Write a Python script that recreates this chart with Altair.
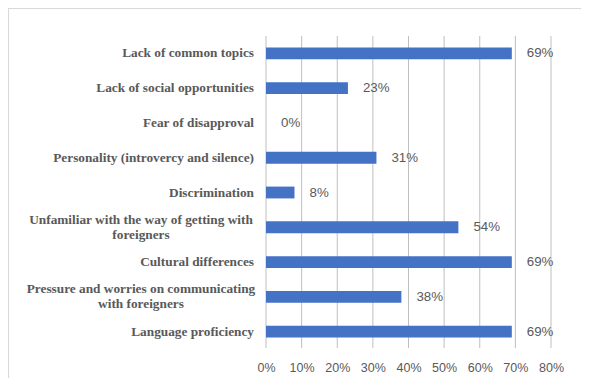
import altair as alt
import pandas as pd

causes = [
    "Lack of common topics",
    "Lack of social opportunities",
    "Fear of disapproval",
    "Personality (introvercy and silence)",
    "Discrimination",
    "Unfamiliar with the way of getting with\nforeigners",
    "Cultural differences",
    "Pressure and worries on communicating\nwith foreigners",
    "Language proficiency",
]
values = [0.69, 0.23, 0.00, 0.31, 0.08, 0.54, 0.69, 0.38, 0.69]
ticks = [0, 0.1, 0.2, 0.3, 0.4, 0.5, 0.6, 0.7, 0.8]

df = pd.DataFrame({
    "cause": causes,
    "value": values,
    "wrapped": ["\n" in c for c in causes],
})

GRAY = "#595959"
W, H = 285, 313

y_enc = alt.Y(
    "cause:N",
    sort=causes,
    axis=None,
    scale=alt.Scale(paddingInner=0.66, paddingOuter=0.33),
)

x_axis = alt.Axis(
    values=ticks,
    tickCount=9,
    format=".0%",
    title=None,
    domain=False,
    ticks=False,
    grid=False,
    labelFont="Liberation Sans",
    labelFontSize=12.5,
    labelColor=GRAY,
    labelPadding=12,
    labelOverlap=False,
    labelFlush=False,
)
x_scale = alt.Scale(domain=[0, 0.8], nice=False)
x_enc = alt.X("value:Q", scale=x_scale, axis=x_axis)

grid = alt.Chart(pd.DataFrame({"tick": ticks})).mark_rule(
    color="#BFBFBF", strokeWidth=1, opacity=1,
).encode(
    x=alt.X("tick:Q", scale=x_scale, axis=x_axis),
    y=alt.value(0),
    y2=alt.value(H - 1),
)

base = alt.Chart(df)

bars = base.mark_bar(color="#4472C4").encode(x=x_enc, y=y_enc)

vals = base.mark_text(
    align="left", baseline="middle", dx=15,
    font="Liberation Sans", fontSize=13.3, color=GRAY,
).encode(
    x=x_enc,
    y=y_enc,
    text=alt.Text("value:Q", format=".0%"),
)

lab_single = base.transform_filter("!datum.wrapped").mark_text(
    align="right", baseline="middle",
    font="Liberation Serif", fontSize=13.3, fontWeight="bold", color=GRAY,
).encode(
    x=alt.value(-12),
    y=y_enc,
    text="cause:N",
)

lab_wrapped = base.transform_filter("datum.wrapped").mark_text(
    align="center", baseline="middle", lineBreak="\n", lineHeight=15, dy=-7.5,
    font="Liberation Serif", fontSize=13.3, fontWeight="bold", color=GRAY,
).encode(
    x=alt.value(-125),
    y=y_enc,
    text="cause:N",
)

border = alt.Chart(pd.DataFrame({"a": [0]})).mark_rect(
    filled=False, stroke="#D9D9D9", strokeWidth=1.2,
).encode(
    x=alt.value(-257.5),
    x2=alt.value(400),
    y=alt.value(-27.5),
    y2=alt.value(400),
)

chart = alt.layer(grid, bars, vals, lab_single, lab_wrapped, border).properties(
    width=W,
    height=H,
    autosize=alt.AutoSizeParams(type="none"),
    padding={"left": 258, "top": 28, "right": 30, "bottom": 29},
    background="white",
).configure_view(stroke=None)

chart.save("out.html", embed_options={"renderer": "svg", "actions": False})
